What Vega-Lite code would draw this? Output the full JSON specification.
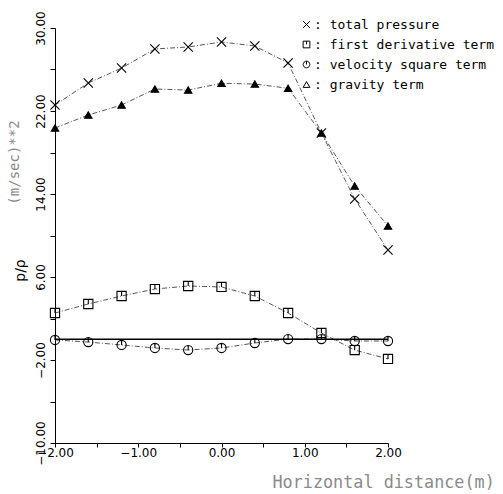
{
  "$schema": "https://vega.github.io/schema/vega-lite/v6.json",
  "width": 333,
  "height": 415,
  "autosize": {"type": "none"},
  "padding": {"left": 55, "top": 28, "right": 115, "bottom": 51},
  "background": "white",
  "config": {"view": {"stroke": null}},
  "layer": [
    {
      "data": {"values": [
        {"x": -2.0, "series": "total pressure", "v": 22.58},
        {"x": -1.6, "series": "total pressure", "v": 24.7},
        {"x": -1.2, "series": "total pressure", "v": 26.14},
        {"x": -0.8, "series": "total pressure", "v": 27.98},
        {"x": -0.4, "series": "total pressure", "v": 28.17},
        {"x": 0.0, "series": "total pressure", "v": 28.65},
        {"x": 0.4, "series": "total pressure", "v": 28.27},
        {"x": 0.8, "series": "total pressure", "v": 26.63},
        {"x": 1.2, "series": "total pressure", "v": 19.88},
        {"x": 1.6, "series": "total pressure", "v": 13.52},
        {"x": 2.0, "series": "total pressure", "v": 8.6},
        {"x": -2.0, "series": "first derivative term", "v": 2.53},
        {"x": -1.6, "series": "first derivative term", "v": 3.4},
        {"x": -1.2, "series": "first derivative term", "v": 4.17},
        {"x": -0.8, "series": "first derivative term", "v": 4.84},
        {"x": -0.4, "series": "first derivative term", "v": 5.13},
        {"x": 0.0, "series": "first derivative term", "v": 5.04},
        {"x": 0.4, "series": "first derivative term", "v": 4.17},
        {"x": 0.8, "series": "first derivative term", "v": 2.53},
        {"x": 1.2, "series": "first derivative term", "v": 0.6},
        {"x": 1.6, "series": "first derivative term", "v": -1.04},
        {"x": 2.0, "series": "first derivative term", "v": -1.9},
        {"x": -2.0, "series": "velocity square term", "v": -0.07},
        {"x": -1.6, "series": "velocity square term", "v": -0.27},
        {"x": -1.2, "series": "velocity square term", "v": -0.55},
        {"x": -0.8, "series": "velocity square term", "v": -0.84},
        {"x": -0.4, "series": "velocity square term", "v": -1.04},
        {"x": 0.0, "series": "velocity square term", "v": -0.84},
        {"x": 0.4, "series": "velocity square term", "v": -0.36},
        {"x": 0.8, "series": "velocity square term", "v": 0.02},
        {"x": 1.2, "series": "velocity square term", "v": 0.02},
        {"x": 1.6, "series": "velocity square term", "v": -0.17},
        {"x": 2.0, "series": "velocity square term", "v": -0.17},
        {"x": -2.0, "series": "gravity term", "v": 20.36},
        {"x": -1.6, "series": "gravity term", "v": 21.61},
        {"x": -1.2, "series": "gravity term", "v": 22.58},
        {"x": -0.8, "series": "gravity term", "v": 24.12},
        {"x": -0.4, "series": "gravity term", "v": 24.02},
        {"x": 0.0, "series": "gravity term", "v": 24.67},
        {"x": 0.4, "series": "gravity term", "v": 24.6},
        {"x": 0.8, "series": "gravity term", "v": 24.19},
        {"x": 1.2, "series": "gravity term", "v": 19.88},
        {"x": 1.6, "series": "gravity term", "v": 14.77},
        {"x": 2.0, "series": "gravity term", "v": 10.92}
      ]},
      "encoding": {
        "x": {
          "field": "x", "type": "quantitative",
          "scale": {"domain": [-2, 2], "nice": false, "zero": false},
          "axis": {
            "values": [-2, -1.5, -1, -0.5, 0, 0.5, 1, 1.5, 2],
            "labelExpr": "datum.value % 1 == 0 ? format(datum.value, '.2f') : ''",
            "grid": false, "tickSize": 4, "tickColor": "black", "domainColor": "black",
            "labelFont": "DejaVu Sans", "labelFontSize": 12, "labelColor": "black", "labelPadding": 0,
            "labelFlush": false, "labelOverlap": false,
            "title": "Horizontal distance(m)",
            "titleFont": "DejaVu Sans Mono", "titleFontSize": 16.8, "titleFontWeight": "normal",
            "titleColor": "#8a8a8a", "titleAlign": "left", "titleAnchor": "start",
            "titleX": 217, "titleY": 39, "titleBaseline": "middle"
          }
        },
        "y": {
          "field": "v", "type": "quantitative",
          "scale": {"domain": [-10, 30], "nice": false, "zero": false},
          "axis": {
            "values": [-10, -6, -2, 2, 6, 10, 14, 18, 22, 26, 30],
            "labelExpr": "(datum.value + 10) % 8 == 0 ? format(datum.value, '.2f') : ''",
            "grid": false, "tickSize": 5, "tickColor": "black", "domainColor": "black",
            "labelFont": "DejaVu Sans", "labelFontSize": 12, "labelColor": "black",
            "labelAngle": -90, "labelPadding": 3, "labelFlush": false, "labelOverlap": false,
            "title": "p/ρ",
            "titleFont": "DejaVu Sans", "titleFontSize": 14, "titleFontWeight": "normal",
            "titleColor": "black", "titleAngle": -90, "titleX": -35, "titleY": 242,
            "titleAlign": "center", "titleBaseline": "middle"
          }
        }
      },
      "layer": [
        {
          "mark": {"type": "line", "color": "#444", "strokeWidth": 0.9, "strokeDash": [5, 2, 1, 2]},
          "encoding": {"detail": {"field": "series"}}
        },
        {
          "mark": {"type": "point", "filled": false, "stroke": "black", "strokeWidth": 1.1, "opacity": 1},
          "encoding": {
            "shape": {
              "field": "series", "type": "nominal",
              "scale": {
                "domain": ["total pressure", "first derivative term", "velocity square term", "gravity term"],
                "range": [
                  "M-1,-1L1,1M-1,1L1,-1",
                  "M-1,-1L1,-1L1,1L-1,1ZM0,-1L0,0",
                  "M-1,0A1,1,0,1,0,1,0A1,1,0,1,0,-1,0ZM0,-1L0,0",
                  "triangle-up"
                ]
              },
              "legend": {
                "orient": "none", "legendX": 245, "legendY": -10,
                "title": null,
                "labelExpr": "': ' + datum.label",
                "labelFont": "DejaVu Sans Mono", "labelFontSize": 13, "labelColor": "black",
                "labelOffset": 1, "rowPadding": 6, "labelLimit": 0,
                "symbolSize": 45, "symbolStrokeColor": "black", "symbolFillColor": "transparent",
                "symbolStrokeWidth": 1, "padding": 0
              }
            },
            "fill": {
              "condition": {"test": "datum.series == 'gravity term'", "value": "black"},
              "value": "transparent"
            },
            "size": {
              "condition": {"test": "datum.series == 'gravity term'", "value": 55},
              "value": 85
            }
          }
        }
      ]
    },
    {
      "data": {"values": [{"zero": 0}]},
      "mark": {"type": "rule", "color": "black", "strokeWidth": 1.3},
      "encoding": {
        "y": {
          "field": "zero", "type": "quantitative",
          "axis": {
            "orient": "left", "domain": false, "ticks": false, "labels": false, "grid": false,
            "title": "(m/sec)**2",
            "titleFont": "DejaVu Sans Mono", "titleFontSize": 14, "titleFontWeight": "normal",
            "titleColor": "#8a8a8a", "titleAngle": -90, "titleX": -41, "titleY": 134,
            "titleAlign": "center", "titleBaseline": "middle"
          }
        }
      }
    }
  ],
  "resolve": {"axis": {"y": "independent"}}
}
